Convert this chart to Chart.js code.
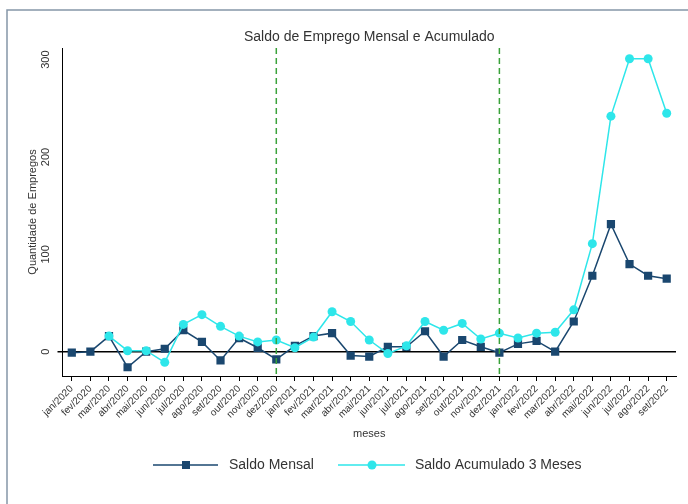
<!DOCTYPE html>
<html>
<head>
<meta charset="utf-8">
<script src="https://cdn.jsdelivr.net/npm/chart.js@4/dist/chart.umd.min.js"></script>
<style>
  html, body { margin: 0; padding: 0; background: #ffffff; }
  #wrap { width: 688px; height: 504px; position: relative; }
</style>
</head>
<body>
<div id="wrap"><canvas id="grafico"></canvas></div>
<script>
const meses = [
  'jan/2020', 'fev/2020', 'mar/2020', 'abr/2020', 'mai/2020', 'jun/2020',
  'jul/2020', 'ago/2020', 'set/2020', 'out/2020', 'nov/2020', 'dez/2020',
  'jan/2021', 'fev/2021', 'mar/2021', 'abr/2021', 'mai/2021', 'jun/2021',
  'jul/2021', 'ago/2021', 'set/2021', 'out/2021', 'nov/2021', 'dez/2021',
  'jan/2022', 'fev/2022', 'mar/2022', 'abr/2022', 'mai/2022', 'jun/2022',
  'jul/2022', 'ago/2022', 'set/2022'
];
const saldoMensal = [
  -1, 0, 16, -16, 0, 3, 22, 10, -9, 14, 4, -8,
  6, 16, 19, -4, -5, 5, 5, 21, -5, 12, 5, -1,
  8, 11, 0, 31, 78, 131, 90, 78, 75
];
const saldoAcumulado = [
  null, null, 16, 1, 1, -11, 28, 38, 26, 16, 10, 12,
  4, 15, 41, 31, 12, -2, 6, 31, 22, 29, 13, 19,
  14, 19, 20, 43, 111, 242, 301, 301, 245
];
const yTicks = [0, 100, 200, 300];
const linhasVerticais = ['dez/2020', 'dez/2021'];

const AZUL = '#1a476f';
const CIANO = '#2ee6ea';
const FONTE = "'Liberation Sans', Arial, sans-serif";
const TEXTO = '#333333';

// moldura, titulo, rotulos verticais do eixo y, linhas tracejadas e legenda
const extras = {
  id: 'extras',
  beforeDraw(chart) {
    const c = chart.ctx;
    c.save();
    c.fillStyle = '#ffffff';
    c.fillRect(0, 0, chart.width, chart.height);
    c.strokeStyle = '#8596a8';
    c.lineWidth = 1.5;
    c.strokeRect(7, 10, chart.width + 10, chart.height + 10);
    c.restore();
  },
  afterDatasetsDraw(chart) {
    const c = chart.ctx;
    const a = chart.chartArea;
    const x = chart.scales.x;
    c.save();
    c.strokeStyle = '#3aa23a';
    c.lineWidth = 1.5;
    c.setLineDash([6, 4]);
    linhasVerticais.forEach(m => {
      const px = x.getPixelForValue(meses.indexOf(m));
      c.beginPath();
      c.moveTo(px, a.top);
      c.lineTo(px, a.bottom);
      c.stroke();
    });
    c.restore();
  },
  afterDraw(chart) {
    const c = chart.ctx;
    const a = chart.chartArea;
    const y = chart.scales.y;
    c.save();
    c.fillStyle = TEXTO;
    c.font = '14px ' + FONTE;
    c.textAlign = 'center';
    c.textBaseline = 'middle';
    c.fillText('Saldo de Emprego Mensal e Acumulado', (a.left + a.right) / 2, 37);

    // rotulos do eixo y na vertical
    c.font = '11px ' + FONTE;
    yTicks.forEach(v => {
      const py = y.getPixelForValue(v);
      c.save();
      c.translate(46, py);
      c.rotate(-Math.PI / 2);
      c.fillText(String(v), 0, 0);
      c.restore();
    });

    // legenda
    const ly = 465;
    c.lineWidth = 1.5;
    c.strokeStyle = AZUL;
    c.beginPath(); c.moveTo(153, ly); c.lineTo(218, ly); c.stroke();
    c.fillStyle = AZUL;
    c.fillRect(182, ly - 4, 8, 8);
    c.strokeStyle = CIANO;
    c.beginPath(); c.moveTo(338, ly); c.lineTo(405, ly); c.stroke();
    c.fillStyle = CIANO;
    c.beginPath(); c.arc(372, ly, 4.5, 0, Math.PI * 2); c.fill();
    c.fillStyle = TEXTO;
    c.font = '14px ' + FONTE;
    c.textAlign = 'left';
    c.fillText('Saldo Mensal', 229, ly);
    c.fillText('Saldo Acumulado 3 Meses', 415, ly);
    c.restore();
  }
};

new Chart(document.getElementById('grafico'), {
  type: 'line',
  data: {
    labels: meses,
    datasets: [
      {
        label: 'Saldo Mensal',
        data: saldoMensal,
        borderColor: AZUL,
        backgroundColor: AZUL,
        borderWidth: 1.5,
        pointStyle: 'rect',
        pointRadius: 5.8,
        pointBorderWidth: 0,
        tension: 0,
        order: 1
      },
      {
        label: 'Saldo Acumulado 3 Meses',
        data: saldoAcumulado,
        borderColor: CIANO,
        backgroundColor: CIANO,
        borderWidth: 1.5,
        pointStyle: 'circle',
        pointRadius: 4.5,
        pointBorderWidth: 0,
        tension: 0,
        order: 0
      }
    ]
  },
  plugins: [extras],
  options: {
    responsive: true,
    maintainAspectRatio: false,
    animation: false,
    layout: { padding: { left: 0, top: 48, right: 12, bottom: 58 } },
    plugins: {
      legend: { display: false },
      title: { display: false },
      tooltip: { enabled: false }
    },
    scales: {
      x: {
        type: 'category',
        offset: true,
        border: { display: true, color: '#000000', width: 1 },
        grid: { display: true, drawOnChartArea: false, tickLength: 5, tickColor: '#000000' },
        ticks: {
          autoSkip: false,
          minRotation: 45,
          maxRotation: 45,
          padding: 2,
          color: TEXTO,
          font: { family: FONTE, size: 10 }
        },
        title: {
          display: true,
          text: 'meses',
          color: TEXTO,
          font: { family: FONTE, size: 11 },
          padding: { top: 0, bottom: 5 }
        },
        afterFit(s) { s.height = 70; }
      },
      y: {
        min: -25,
        max: 312,
        border: { display: true, color: '#000000', width: 1 },
        grid: {
          drawOnChartArea: true,
          tickLength: 5,
          tickColor: '#000000',
          color: ctx => ctx.tick && ctx.tick.value === 0 ? '#000000' : 'rgba(0,0,0,0)',
          lineWidth: ctx => ctx.tick && ctx.tick.value === 0 ? 1.5 : 0
        },
        ticks: {
          stepSize: 100,
          includeBounds: false,
          color: 'rgba(0,0,0,0)',
          font: { family: FONTE, size: 11 }
        },
        title: {
          display: true,
          text: 'Quantidade de Empregos',
          color: TEXTO,
          font: { family: FONTE, size: 11 },
          padding: { top: 26, bottom: 0 }
        },
        afterFit(s) { s.width = 62.5; }
      }
    }
  }
});
</script>
</body>
</html>
